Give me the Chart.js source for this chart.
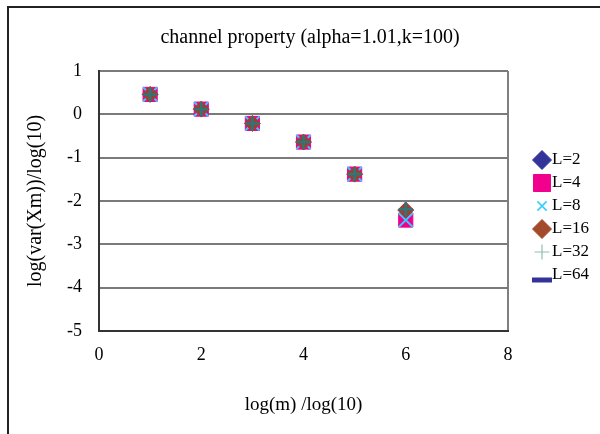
<!DOCTYPE html>
<html><head><meta charset="utf-8">
<script src="https://cdn.jsdelivr.net/npm/chart.js@4/dist/chart.umd.min.js"></script>
<style>html,body{margin:0;padding:0;background:#fff;} canvas{display:block;}</style>
</head><body>
<canvas id="c" width="600" height="434"></canvas>
<script>
// ---- data ----
const xValues = [1, 2, 3, 4, 5, 6];
const seriesNames = ['L=2', 'L=4', 'L=8', 'L=16', 'L=32', 'L=64'];
const L2  = [0.46, 0.12, -0.21, -0.64, -1.38, -2.21];
const L4  = [0.46, 0.12, -0.21, -0.64, -1.38, -2.44];
const L8  = [0.46, 0.12, -0.21, -0.64, -1.38, -2.44];
const L16 = [0.46, 0.12, -0.21, -0.64, -1.38, -2.21];
const L32 = [0.46, 0.12, -0.21, -0.64, -1.38, -2.19];
const L64 = [0.46, 0.12, -0.21, -0.64, -1.38, -2.21];
const seriesValues = [L2, L4, L8, L16, L32, L64];
const xTicks = [0, 2, 4, 6, 8];
const yTicks = [-5, -4, -3, -2, -1, 0, 1];
const titleText = 'channel property (alpha=1.01,k=100)';
const xTitle = 'log(m) /log(10)';
const yTitle = 'log(var(Xm))/log(10)';

// ---- styles ----
const SERIF = "'Liberation Serif', 'Times New Roman', serif";
const markStyles = [
  {style: 'rectRot', r: 7,  color: '#333399', bw: 1,   order: 6, lr: 9.5, lw: 1,   ldy: 0},
  {style: 'rect',    r: 10, color: '#F0008C', bw: 1,   order: 5, lr: 12,  lw: 1,   ldy: 0},
  {style: 'crossRot',r: 10, color: '#33CCFF', bw: 2,   order: 4, lr: 6.5, lw: 1.5, ldy: 0},
  {style: 'rectRot', r: 8,  color: '#9E3F36', bw: 1,   order: 3, lr: 9.5, lw: 1,   ldy: 0, lcolor: '#A34A2C'},
  {style: 'cross',   r: 7,  color: '#2A7878', bw: 2.5, order: 2, lr: 7.5, lw: 1.2, ldy: 0, lcolor: '#8FBFB0'},
  {style: 'line',    r: 6,  color: '#333399', bw: 3,   order: 7, lr: 10,  lw: 5,   ldy: 5}
];

const datasets = seriesNames.map((name, i) => ({
  label: name,
  data: xValues.map((x, j) => ({x: x, y: seriesValues[i][j]})),
  showLine: false,
  pointStyle: markStyles[i].style,
  pointRadius: markStyles[i].r,
  pointHoverRadius: markStyles[i].r,
  backgroundColor: markStyles[i].color,
  borderColor: markStyles[i].color,
  pointBorderWidth: markStyles[i].bw,
  order: markStyles[i].order
}));

const framePlugin = {
  id: 'frame',
  beforeDraw(chart) {
    const ctx = chart.ctx;
    ctx.save();
    ctx.fillStyle = '#fff';
    ctx.fillRect(0, 0, chart.width, chart.height);
    ctx.strokeStyle = '#222';
    ctx.lineWidth = 2;
    ctx.beginPath();
    ctx.moveTo(8, chart.height);
    ctx.lineTo(8, 7);
    ctx.lineTo(chart.width, 7);
    ctx.stroke();
    ctx.restore();
  }
};

const legendPlugin = {
  id: 'sideLegend',
  afterDraw(chart) {
    const ctx = chart.ctx;
    chart.data.datasets.forEach((ds, i) => {
      const st = markStyles[i];
      const y = 160 + i * 23;
      const col = st.lcolor || st.color;
      ctx.save();
      ctx.fillStyle = col;
      ctx.strokeStyle = col;
      ctx.lineWidth = st.lw;
      Chart.helpers.drawPoint(ctx, {pointStyle: st.style, radius: st.lr, borderWidth: st.lw, rotation: 0}, 542, y + st.ldy);
      ctx.restore();
      ctx.save();
      ctx.fillStyle = '#000';
      ctx.font = '17px ' + SERIF;
      ctx.textAlign = 'left';
      ctx.textBaseline = 'middle';
      ctx.fillText(ds.label, 552, y);
      ctx.restore();
    });
  }
};

new Chart(document.getElementById('c'), {
  type: 'scatter',
  data: {datasets: datasets},
  plugins: [framePlugin, legendPlugin],
  options: {
    responsive: false,
    animation: false,
    events: [],
    layout: {padding: {left: 20, right: 0, top: 0, bottom: 0}},
    plugins: {
      legend: {display: false},
      tooltip: {enabled: false},
      title: {
        display: true,
        text: titleText,
        color: '#000',
        font: {family: SERIF, size: 20, weight: 'normal'},
        padding: {top: 26, bottom: 21}
      }
    },
    scales: {
      x: {
        type: 'linear',
        position: 'bottom',
        min: 0, max: 8,
        afterBuildTicks: s => { s.ticks = xTicks.map(v => ({value: v})); },
        afterFit: s => { s.height = 103; },
        ticks: {color: '#000', font: {family: SERIF, size: 18}, padding: 13},
        grid: {
          drawTicks: false,
          lineWidth: 2,
          color: c => (c.tick && c.tick.value === 8) ? '#808080' : 'rgba(0,0,0,0)'
        },
        border: {display: true, color: '#333', width: 2},
        title: {display: true, text: xTitle, color: '#000', font: {family: SERIF, size: 19}, padding: {top: 0, bottom: 18}}
      },
      y: {
        type: 'linear',
        position: 'left',
        min: -5, max: 1,
        afterBuildTicks: s => { s.ticks = yTicks.map(v => ({value: v})); },
        afterFit: s => { s.width = 79; },
        ticks: {color: '#000', font: {family: SERIF, size: 18}, padding: 17},
        grid: {drawTicks: false, lineWidth: 2, color: '#7a7a7a'},
        border: {display: true, color: '#333', width: 2},
        title: {display: true, text: yTitle, color: '#000', font: {family: SERIF, size: 20}, padding: {top: 4, bottom: 0}}
      },
      yR: {
        type: 'linear',
        position: 'right',
        display: true,
        afterFit: s => { s.width = 92; },
        ticks: {display: false},
        grid: {display: false, drawTicks: false},
        border: {display: false},
        title: {display: false}
      }
    }
  }
});
</script>
</body></html>
